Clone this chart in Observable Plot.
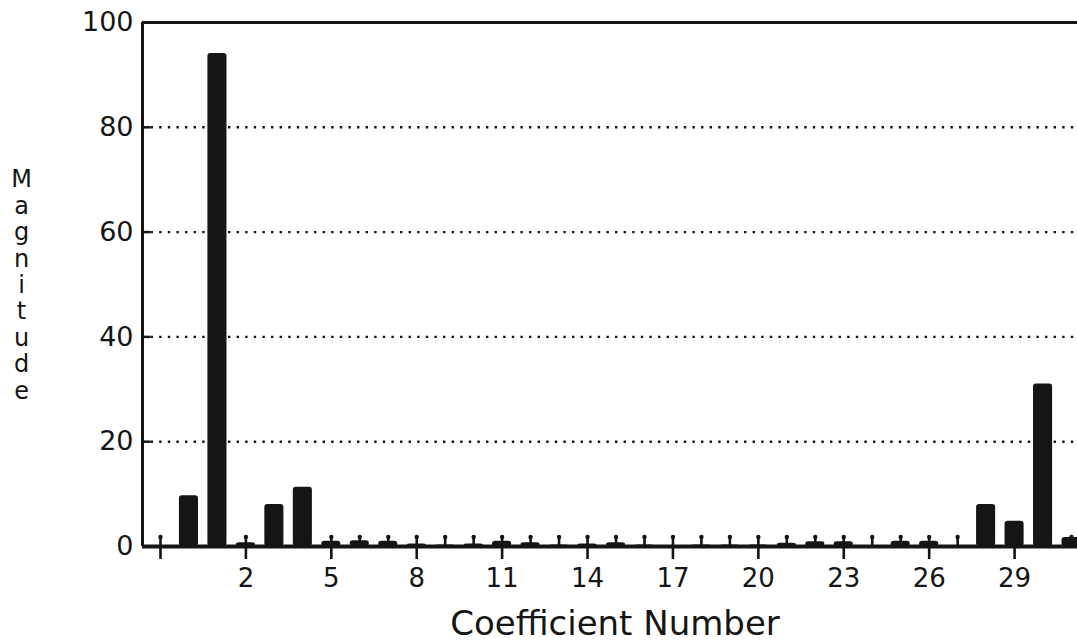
<!DOCTYPE html>
<html>
<head>
<meta charset="utf-8">
<script src="https://cdn.jsdelivr.net/npm/d3@7"></script>
<script src="https://cdn.jsdelivr.net/npm/@observablehq/plot@0.6"></script>
<style>
  html, body { margin: 0; padding: 0; background: #fff; overflow: hidden; }
  #chart svg { display: block; }
</style>
</head>
<body>
<div id="chart"></div>
<script>
// ---- data ----
const coefficients = [0,1,2,3,4,5,6,7,8,9,10,11,12,13,14,15,16,17,18,19,20,21,22,23,24,25,26,27,28,29,30,31];
const magnitudes   = [9.7,94.1,0.7,8.0,11.3,1.0,1.1,1.0,0.5,0.3,0.5,1.0,0.7,0.3,0.5,0.7,0.3,0.2,0.3,0.3,0.3,0.6,0.9,0.9,0.2,1.0,1.0,0.2,8.0,4.8,31.0,1.7];
const minorTicks   = [-1,0,1,2,3,4,5,6,7,8,9,10,11,12,13,14,15,16,17,18,19,20,21,22,23,24,25,26,27,28,29,30,31];
const xTickValues  = [-1,2,5,8,11,14,17,20,23,26,29];
const xTickLabels  = ["","2","5","8","11","14","17","20","23","26","29"];
const yTickValues  = [0,20,40,60,80,100];
const yTickLabels  = ["0","20","40","60","80","100"];
const gridValues   = [20,40,60,80];
const xDomain      = [-1.632, 31.21];
const yDomain      = [0, 100];
const minorTickLen = 1.8;   // in magnitude units
const xTitle       = "Coefficient Number";
const yTitle       = "Magnitude";

const data = coefficients.map((c, i) => ({c, v: magnitudes[i]}));
const ink = "#151515";

const chart = Plot.plot({
  width: 1077,
  height: 643,
  marginLeft: 142,
  marginRight: 0,
  marginTop: 22,
  marginBottom: 97,
  style: {fontFamily: "'DejaVu Sans', sans-serif", color: ink, background: "#fff"},
  x: {domain: xDomain},
  y: {domain: yDomain},
  marks: [
    Plot.ruleY(gridValues, {stroke: ink, strokeWidth: 2.4, strokeDasharray: "2.4,6.2"}),
    Plot.ruleY(gridValues, {x1: xDomain[0], x2: xDomain[0] + 0.3, stroke: ink, strokeWidth: 2.5}),
    Plot.ruleX(minorTicks, {x: d => d, y1: 0, y2: minorTickLen, stroke: ink, strokeWidth: 2.6}),
    Plot.dot(minorTicks, {x: d => d, y: minorTickLen, r: 2.2, fill: ink}),
    Plot.rectY(data, {
      x1: d => d.c - 0.5, x2: d => d.c + 0.5, y: "v",
      insetLeft: 4.7, insetRight: 4.7, rx: 3, fill: ink, clip: true
    }),
    Plot.ruleY([yDomain[1]], {stroke: ink, strokeWidth: 3}),
    Plot.ruleX([xDomain[0]], {stroke: ink, strokeWidth: 3}),
    Plot.ruleY([0], {stroke: ink, strokeWidth: 4}),
    Plot.axisX({
      ticks: xTickValues, tickFormat: (d, i) => xTickLabels[i], label: null,
      tickSize: 13, tickPadding: 9, strokeWidth: 2.6, fontSize: 26, stroke: ink
    }),
    Plot.axisY({
      ticks: yTickValues, tickFormat: (d, i) => yTickLabels[i], label: null,
      tickSize: 0, tickPadding: 9, fontSize: 27
    }),
    Plot.text([xTitle], {
      frameAnchor: "bottom", dy: 78, dx: 5, fontSize: 34, fill: ink,
      textAnchor: "middle", lineAnchor: "middle", letterSpacing: "1.3px"
    }),
    Plot.text([yTitle.split("").join("\n")], {
      frameAnchor: "left", dx: -121, fontSize: 24, fill: ink,
      textAnchor: "middle", lineAnchor: "middle", lineHeight: 1.1
    })
  ]
});
document.getElementById("chart").append(chart);
</script>
</body>
</html>
